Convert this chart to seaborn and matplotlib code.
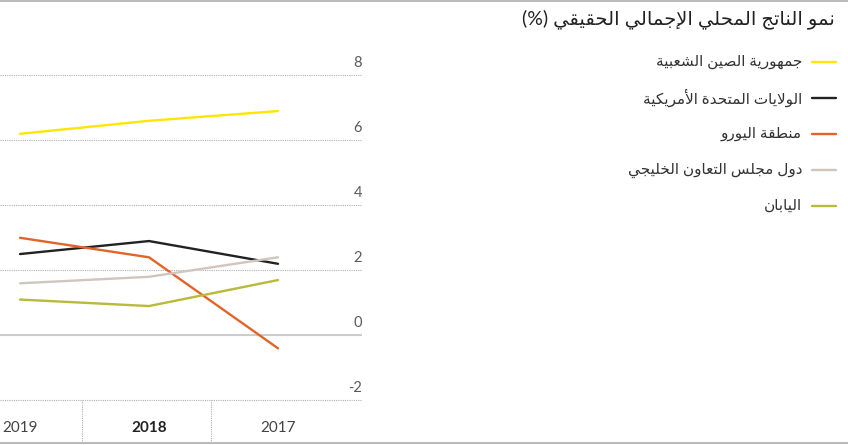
import pandas as pd
import matplotlib
matplotlib.use("Agg")
import matplotlib.pyplot as plt
from matplotlib.lines import Line2D
from matplotlib.transforms import ScaledTranslation
import seaborn as sns

# data (RTL: 2019 on the left)
years = [2019, 2018, 2017]
china = [6.2, 6.6, 6.9]
usa = [2.5, 2.9, 2.2]
euro = [3.0, 2.4, -0.4]
gcc = [1.6, 1.8, 2.4]
japan = [1.1, 0.9, 1.7]

names = ["جمهورية الصين الشعبية", "الولايات المتحدة الأمريكية", "منطقة اليورو",
         "دول مجلس التعاون الخليجي", "اليابان"]
colors = ["#ffe600", "#222222", "#e2642a", "#d0c6bd", "#b8ba3a"]
title = "نمو الناتج المحلي الإجمالي الحقيقي (%)"
y_ticks = [-2, 0, 2, 4, 6, 8]
y_tick_labels = ["-2", "0", "2", "4", "6", "8"]
x_labels = ["2019", "2018", "2017"]

# --- tiny arabic shaper (matplotlib has no shaping / bidi) ---
FORMS = {
    '\u0621': (0xFE80, 1), '\u0622': (0xFE81, 2), '\u0623': (0xFE83, 2),
    '\u0624': (0xFE85, 2), '\u0625': (0xFE87, 2), '\u0626': (0xFE89, 4),
    '\u0627': (0xFE8D, 2), '\u0628': (0xFE8F, 4), '\u0629': (0xFE93, 2),
    '\u062A': (0xFE95, 4), '\u062B': (0xFE99, 4), '\u062C': (0xFE9D, 4),
    '\u062D': (0xFEA1, 4), '\u062E': (0xFEA5, 4), '\u062F': (0xFEA9, 2),
    '\u0630': (0xFEAB, 2), '\u0631': (0xFEAD, 2), '\u0632': (0xFEAF, 2),
    '\u0633': (0xFEB1, 4), '\u0634': (0xFEB5, 4), '\u0635': (0xFEB9, 4),
    '\u0636': (0xFEBD, 4), '\u0637': (0xFEC1, 4), '\u0638': (0xFEC5, 4),
    '\u0639': (0xFEC9, 4), '\u063A': (0xFECD, 4), '\u0641': (0xFED1, 4),
    '\u0642': (0xFED5, 4), '\u0643': (0xFED9, 4), '\u0644': (0xFEDD, 4),
    '\u0645': (0xFEE1, 4), '\u0646': (0xFEE5, 4), '\u0647': (0xFEE9, 4),
    '\u0648': (0xFEED, 2), '\u0649': (0xFEEF, 2), '\u064A': (0xFEF1, 4),
}
LAM_ALEF = {'\u0622': 0xFEF5, '\u0623': 0xFEF7, '\u0625': 0xFEF9, '\u0627': 0xFEFB}


def shape(text):
    out = []
    prev = None
    i = 0
    n = len(text)
    while i < n:
        c = text[i]
        if c not in FORMS:
            out.append(c)
            prev = None
            i += 1
            continue
        link_prev = prev is not None and FORMS[prev][1] == 4
        if c == '\u0644' and i + 1 < n and text[i + 1] in LAM_ALEF:
            out.append(chr(LAM_ALEF[text[i + 1]] + (1 if link_prev else 0)))
            prev = text[i + 1]
            i += 2
            continue
        base, k = FORMS[c]
        nxt = text[i + 1] if i + 1 < n else None
        link_next = k == 4 and nxt in FORMS
        if k == 1:
            code = base
        elif k == 2:
            code = base + (1 if link_prev else 0)
        elif link_prev and link_next:
            code = base + 3
        elif link_prev:
            code = base + 1
        elif link_next:
            code = base + 2
        else:
            code = base
        out.append(chr(code))
        prev = c
        i += 1
    vis = "".join(reversed(out))
    return vis.translate(str.maketrans("()", ")("))


df = pd.DataFrame({
    "year": years * 5,
    "value": china + usa + euro + gcc + japan,
    "country": [nm for nm in names for _ in years],
})

sns.set_style("white")
plt.rcParams["font.family"] = ["Lato", "DejaVu Sans"]

W, H = 848, 445
fig = plt.figure(figsize=(W / 100, H / 100), dpi=100)
ax = fig.add_axes([0, 1 - 443 / H, 362 / W, (443 - 40) / H])

sns.lineplot(data=df, x="year", y="value", hue="country", hue_order=names,
             palette=dict(zip(names, colors)), linewidth=1.7, legend=False, ax=ax)

ax.set_xlim(2019 + 20 / 129, 2019 - 342 / 129)
ax.set_ylim((335.3 - 443) / 32.5, (335.3 - 40) / 32.5)
for s in ax.spines.values():
    s.set_visible(False)

ax.set_yticks(y_ticks)
ax.set_yticklabels(y_tick_labels)
ax.grid(axis="y", color="#b0b0b0", linestyle=(0, (1, 1)), linewidth=0.8)
ax.set_axisbelow(True)
ax.axhline(0, color="#c8c8c8", linewidth=1.2, zorder=1)
# separators between the year columns at the bottom
ax.vlines([2018.52, 2017.52], ax.get_ylim()[0], -2, colors="#b0b0b0",
          linestyles=(0, (1, 1)), linewidth=0.8)

ax.yaxis.tick_right()
ax.tick_params(axis="y", length=0, pad=0, labelsize=10.5, labelcolor="#5a5a5a")
for lbl in ax.get_yticklabels():
    lbl.set_horizontalalignment("right")
    lbl.set_transform(lbl.get_transform() + ScaledTranslation(0, 10 / 72, fig.dpi_scale_trans))

ax.set_xticks(years)
ax.set_xticklabels(x_labels)
ax.tick_params(axis="x", length=0, pad=-16, labelsize=11, labelcolor="#444444")
ax.get_xticklabels()[1].set_fontweight("bold")
ax.get_xticklabels()[1].set_color("#222222")
ax.set_xlabel("")
ax.set_ylabel("")

# frame lines top / bottom
fig.add_artist(Line2D([0, 1], [1 - 1 / H] * 2, transform=fig.transFigure, color="#bbbbbb", lw=1.5))
fig.add_artist(Line2D([0, 1], [1 - 443 / H] * 2, transform=fig.transFigure, color="#bbbbbb", lw=1.5))

# legend (right side, RTL)
fig.text(835 / W, 1 - 19 / H, shape(title), ha="right", va="center",
         fontsize=14, color="#222222")
for i, (nm, col) in enumerate(zip(names, colors)):
    yy = 1 - (62 + 36 * i) / H
    fig.text(802 / W, yy, shape(nm), ha="right", va="center", fontsize=11, color="#333333")
    fig.add_artist(Line2D([812 / W, 836 / W], [yy, yy], transform=fig.transFigure,
                          color=col, lw=1.7))

fig.savefig("out.png", dpi=100)
